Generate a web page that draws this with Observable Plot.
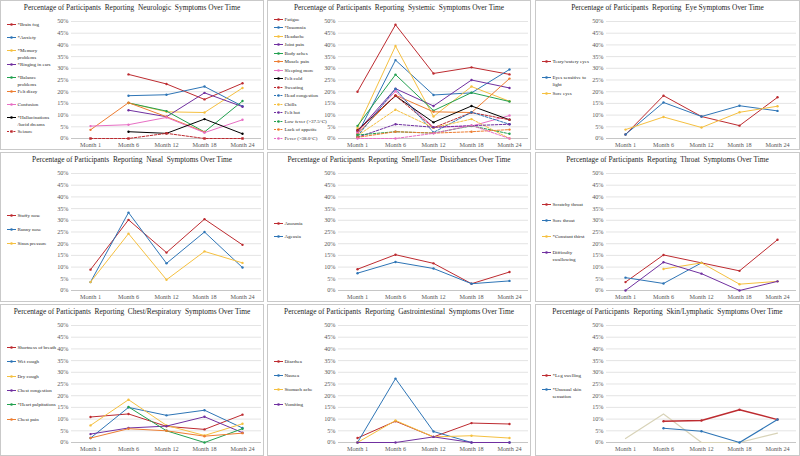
<!DOCTYPE html>
<html><head><meta charset="utf-8">
<script src="https://cdn.jsdelivr.net/npm/d3@7"></script>
<script src="https://cdn.jsdelivr.net/npm/@observablehq/plot@0.6"></script>
<style>
body{margin:0;background:#fff;}
#root{position:relative;width:800px;height:456px;font-family:"Liberation Serif","Times New Roman",serif;}
.panel{position:absolute;box-sizing:border-box;border:1px solid #c9c9c9;background:#fff;overflow:hidden}
.title{height:14px;line-height:14px;font-size:7.4px;text-align:center;white-space:pre;color:#262626}
.legend-item{position:absolute;display:flex;align-items:flex-start;font-size:5px;line-height:7px;color:#262626;white-space:pre}
.legend-item svg{flex:none;margin-right:1.5px}
</style></head><body><div id="root"></div><script>
// ---------- DATA ----------
const months = ["Month 1","Month 6","Month 12","Month 18","Month 24"];
const yTicks = [0,5,10,15,20,25,30,35,40,45,50];

const neuroTitle = "Percentage of Participants  Reporting  Neurologic  Symptoms Over Time";
const neuroLabels = ["*Brain fog","*Anxiety","*Memory\nproblems","*Ringing in ears","*Balance\nproblems","Felt dizzy","Confusion","*Hallucinations\n/lucid dreams","Seizure"];
const neuroValues = [
  [null,27.4,23.3,16.7,23.6],
  [null,18.3,18.7,22.2,13.8],
  [null,15.2,11.4,11.1,21.6],
  [null,12.1,9.3,19.5,13.6],
  [null,15.2,11.7,2.8,16.0],
  [3.7,15.3,9.3,2.8,null],
  [5.3,5.9,9.0,2.5,8.0],
  [null,2.9,2.2,8.3,2.0],
  [0,0,2.2,0,0]
];

const sysTitle = "Percentage of Participants  Reporting  Systemic  Symptoms Over Time";
const sysLabels = ["Fatigue","*Insomnia","Headache","Joint pain","Body aches","Muscle pain","Sleeping more","Felt cold","Sweating","Head congestion","Chills","Felt hot","Low fever (>37.5°C)","Lack of appetite","Fever (>38.0°C)"];
const sysValues = [
  [20.0,48.6,27.8,30.4,27.4],
  [1.8,33.5,18.6,19.5,29.5],
  [4.5,39.5,9.4,22.2,15.9],
  [3.0,21.3,13.9,25.0,21.6],
  [5.4,27.3,11.9,19.6,15.8],
  [2.0,18.5,11.4,11.1,25.6],
  [2.7,20.2,4.8,5.3,9.8],
  [3.6,18.2,6.9,13.9,8.0],
  [3.4,18.3,4.6,11.1,8.0],
  [1.0,21.2,2.6,11.2,6.1],
  [1.2,12.3,4.6,8.3,0.0],
  [0.5,6.1,4.8,5.5,6.1],
  [1.5,2.9,2.3,5.4,2.0],
  [0.5,2.9,2.3,2.9,3.8],
  [0.0,0.0,2.2,5.6,0.0]
];

const eyeTitle = "Percentage of Participants  Reporting  Eye Symptoms Over Time";
const eyeLabels = ["Teary/watery eyes","Eyes sensitive to\nlight","Sore eyes"];
const eyeValues = [
  [1.7,18.3,9.4,5.5,17.6],
  [1.7,15.4,9.4,14.0,11.8],
  [3.8,9.2,4.7,11.2,13.8]
];

const nasalTitle = "Percentage of Participants  Reporting  Nasal  Symptoms Over Time";
const nasalLabels = ["Stuffy nose","Runny nose","Sinus pressure"];
const nasalValues = [
  [8.9,30.2,16.2,30.5,19.5],
  [3.6,33.3,11.6,25.0,9.8],
  [3.6,24.3,4.6,16.7,11.8]
];

const smellTitle = "Percentage of Participants  Reporting  Smell/Taste  Distirbances Over Time";
const smellLabels = ["Anosmia","Ageusia"];
const smellValues = [
  [9.1,15.3,11.6,2.9,7.9],
  [7.4,12.2,9.4,2.9,4.1]
];

const throatTitle = "Percentage of Participants  Reporting  Throat  Symptoms Over Time";
const throatLabels = ["Scratchy throat","Sore throat","*Constant thirst","Difficulty\nswallowing"];
const throatValues = [
  [3.6,15.2,11.8,8.4,21.7],
  [5.5,3.0,11.8,null,null],
  [null,9.2,11.8,2.7,3.9],
  [0.0,12.1,7.2,0.0,3.9]
];

const chestTitle = "Percentage of Participants  Reporting  Chest/Respiratory  Symptoms Over Time";
const chestLabels = ["Shortness of breath","Wet cough","Dry cough","Chest congestion","*Heart palpitations","Chest pain"];
const chestValues = [
  [10.9,12.2,6.9,5.6,11.9],
  [1.9,15.0,11.6,13.8,6.2],
  [7.3,18.3,7.3,3.0,8.0],
  [3.6,6.2,7.0,11.0,4.2],
  [null,15.2,5.0,0.0,5.9],
  [1.9,5.9,5.0,2.7,4.0]
];

const giTitle = "Percentage of Participants  Reporting  Gastrointestinal  Symptoms Over Time";
const giLabels = ["Diarrhea","Nausea","Stomach ache","Vomiting"];
const giValues = [
  [1.9,9.1,2.4,8.3,7.9],
  [0.0,27.3,4.7,0.0,0.0],
  [0.0,9.4,2.4,2.9,1.9],
  [0.0,0.0,2.4,0.0,0.0]
];

const skinTitle = "Percentage of Participants  Reporting  Skin/Lymphatic  Symptoms Over Time";
const skinLabels = ["*Leg swelling","*Unusual skin\nsensation"];
const skinValues = [
  [null,9.1,9.4,14.0,9.8],
  [null,6.1,4.8,0.0,9.8]
];
const skinUnlabeledValues = [1.7,12.2,0.0,0.0,4.0];

// ---------- STYLES ----------
const C = {red:"#bd2b30", blue:"#2e75b6", yellow:"#f5c040", purple:"#7030a0", green:"#22a04f", orange:"#ed7d31", pink:"#e76fc4", black:"#000000", tan:"#d8d3b8"};
const solid8 = [C.red,C.blue,C.yellow,C.purple,C.green,C.orange,C.pink,C.black];

const panels = [
  {title:neuroTitle, labels:neuroLabels, values:neuroValues, colors:solid8.concat([C.red]), dashed:[8], squares:[8], col:0,row:0, legTop:24, legStep:13.4},
  {title:sysTitle, labels:sysLabels, values:sysValues, colors:solid8.concat([C.red,C.blue,C.yellow,C.purple,C.green,C.orange,C.pink]), dashed:[8,9,10,11,12,13,14], squares:[], col:1,row:0, legTop:19.3, legStep:8.5},
  {title:eyeTitle, labels:eyeLabels, values:eyeValues, colors:[C.red,C.blue,C.yellow], dashed:[], squares:[], col:2,row:0, legTop:61, legStep:16},
  {title:nasalTitle, labels:nasalLabels, values:nasalValues, colors:[C.red,C.blue,C.yellow], dashed:[], squares:[], col:0,row:1, legTop:63, legStep:14},
  {title:smellTitle, labels:smellLabels, values:smellValues, colors:[C.red,C.blue], dashed:[], squares:[], col:1,row:1, legTop:71, legStep:13.3},
  {title:throatTitle, labels:throatLabels, values:throatValues, colors:[C.red,C.blue,C.yellow,C.purple], dashed:[], squares:[], col:2,row:1, legTop:52, legStep:16},
  {title:chestTitle, labels:chestLabels, values:chestValues, colors:[C.red,C.blue,C.yellow,C.purple,C.green,C.orange], dashed:[], squares:[], col:0,row:2, legTop:43.3, legStep:14.4},
  {title:giTitle, labels:giLabels, values:giValues, colors:[C.red,C.blue,C.yellow,C.purple], dashed:[], squares:[], col:1,row:2, legTop:57, legStep:14.4},
  {title:skinTitle, labels:skinLabels, values:skinValues, colors:[C.red,C.blue], dashed:[], squares:[], col:2,row:2, legTop:71, legStep:14,
   extra:{values:skinUnlabeledValues, color:C.tan}, widths:[1.4,1.2]}
];
const colLeft = [0,267,535], colWidth = [264,264,265];
const rowTop = [0,152,304], rowHeight = [150,150,152];

const root = document.getElementById("root");
const NS = "http://www.w3.org/2000/svg";

function swatch(color, dashed, square){
  const s = document.createElementNS(NS,"svg");
  s.setAttribute("width","9"); s.setAttribute("height","7");
  const l = document.createElementNS(NS,"line");
  l.setAttribute("x1","0"); l.setAttribute("x2","9"); l.setAttribute("y1","3.5"); l.setAttribute("y2","3.5");
  l.setAttribute("stroke",color); l.setAttribute("stroke-width","1");
  if (dashed) l.setAttribute("stroke-dasharray","2,1.2");
  s.appendChild(l);
  let m;
  if (square){ m = document.createElementNS(NS,"rect"); m.setAttribute("x","3.3"); m.setAttribute("y","2.3"); m.setAttribute("width","2.4"); m.setAttribute("height","2.4"); }
  else { m = document.createElementNS(NS,"circle"); m.setAttribute("cx","4.5"); m.setAttribute("cy","3.5"); m.setAttribute("r","1.3"); }
  m.setAttribute("fill",color); s.appendChild(m);
  return s;
}

panels.forEach(p => {
  const div = document.createElement("div");
  div.className = "panel";
  div.style.left = colLeft[p.col]+"px"; div.style.top = rowTop[p.row]+"px";
  div.style.width = colWidth[p.col]+"px"; div.style.height = rowHeight[p.row]+"px";
  const t = document.createElement("div"); t.className="title"; t.textContent = p.title; div.appendChild(t);

  const innerW = colWidth[p.col]-2;
  const marks = [
    Plot.gridY(yTicks.slice(1), {stroke:"#d9d9d9", strokeOpacity:1, strokeWidth:0.7}),
    Plot.ruleY([0], {stroke:"#bfbfbf", strokeWidth:0.9}),
    Plot.axisY({ticks:yTicks, tickFormat:d=>d+"%", tickSize:0, tickPadding:3, label:null}),
    Plot.axisX({tickSize:0, tickPadding:4, label:null})
  ];
  const series = p.labels.map((lab,i)=>({values:p.values[i], color:p.colors[i], dashed:p.dashed.includes(i), square:p.squares.includes(i), width:(p.widths&&p.widths[i])||1}));
  if (p.extra) series.unshift({values:p.extra.values, color:p.extra.color, dashed:false, noMarker:true, width:1.2});
  series.forEach(s => {
    const rows = months.map((m,j)=>({month:m, value:s.values[j]})).filter(d=>d.value!=null);
    marks.push(Plot.line(rows, {x:"month", y:"value", stroke:s.color, strokeWidth:s.width, strokeDasharray: s.dashed ? "2.5,1.5" : undefined}));
    if (!s.noMarker) marks.push(Plot.dot(rows, {x:"month", y:"value", fill:s.color, r: s.square ? 1.4 : 1.2, symbol: s.square ? "square" : "circle"}));
  });
  const svg = Plot.plot({
    width: innerW, height: 134,
    marginLeft: 70, marginRight: innerW-260, marginTop: 6, marginBottom: 11,
    x: {type:"point", domain: months, padding: 0.5},
    y: {domain:[0,50]},
    style: {fontFamily:'"Liberation Serif","Times New Roman",serif', fontSize:"6.2px", color:"#595959", background:"transparent", overflow:"visible"},
    marks
  });
  svg.style.display = "block";
  div.appendChild(svg);

  p.labels.forEach((lab,i) => {
    const it = document.createElement("div");
    it.className = "legend-item";
    it.style.left = "6px";
    it.style.top = (p.legTop + i*p.legStep - 1 - 3.5) + "px";
    it.appendChild(swatch(p.colors[i], p.dashed.includes(i), p.squares.includes(i)));
    const sp = document.createElement("span"); sp.textContent = lab; it.appendChild(sp);
    div.appendChild(it);
  });
  root.appendChild(div);
});
</script></body></html>
